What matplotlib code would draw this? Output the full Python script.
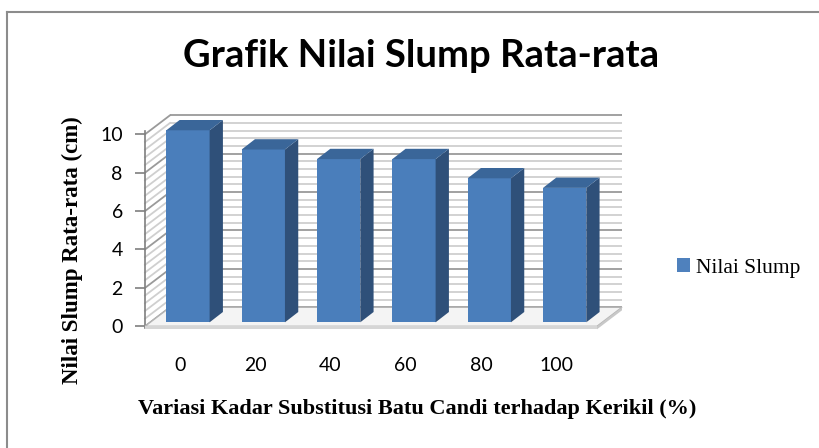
import matplotlib
matplotlib.use("Agg")
import matplotlib.pyplot as plt
from matplotlib.patches import Polygon, Patch
from matplotlib.lines import Line2D
import numpy as np

categories = ["0", "20", "40", "60", "80", "100"]
values = [10.0, 9.0, 8.5, 8.5, 7.5, 7.0]
yticks = [0, 2, 4, 6, 8, 10]
series_name = "Nilai Slump"
title = "Grafik Nilai Slump Rata-rata"
xlabel = "Variasi Kadar Substitusi Batu Candi terhadap Kerikil (%)"
ylabel = "Nilai Slump Rata-rata (cm)"

W, H = 819, 448
fig = plt.figure(figsize=(W / 100, H / 100), dpi=100)
fig.patch.set_facecolor("white")

# front plane of the plot in pixels
x_left, x_right = 145.0, 597.0
y0_px, y10_px = 326.3, 134.3
ax = fig.add_axes([x_left / W, 1 - y0_px / H, (x_right - x_left) / W, (y0_px - y10_px) / H])
n = len(categories)
ax.set_xlim(-0.5, n - 0.5)
ax.set_ylim(0, 10)
ax.set_facecolor("none")
for s in ["top", "right", "bottom"]:
    ax.spines[s].set_visible(False)

pxu_x = (x_right - x_left) / n
pxu_y = (y0_px - y10_px) / 10.0


def d(dxp, dyp):
    return dxp / pxu_x, -dyp / pxu_y


Dx, Dy = d(25, -19)          # full depth
bx, by = d(5.3, -4)          # bar front plane
ddx, ddy = d(13.3, -10.3)    # bar depth
bw = 43.3 / pxu_x

xl, xr = -0.5, n - 0.5

# back wall
ax.add_patch(Polygon([(xl + Dx, Dy), (xr + Dx, Dy), (xr + Dx, 10 + Dy), (xl + Dx, 10 + Dy)],
                     closed=True, fc="white", ec="none", zorder=1, clip_on=False))
# gridlines
for v in np.round(np.arange(0, 10.001, 0.4), 2):
    major = abs(v / 2 - round(v / 2)) < 1e-6
    col = "#9a9a9a" if major else "#cfcfcf"
    lw = 1.3
    ax.plot([xl + Dx, xr + Dx], [v + Dy, v + Dy], color=col, lw=lw, zorder=2, clip_on=False,
            solid_capstyle="butt")
    ax.plot([xl, xl + Dx], [v, v + Dy], color=col, lw=lw, zorder=2, clip_on=False)

# floor
ax.add_patch(Polygon([(xl, 0), (xr, 0), (xr + Dx, Dy), (xl + Dx, Dy)], closed=True,
                     fc="#f4f4f4", ec="#b5b5b5", lw=1.0, zorder=3, clip_on=False))
t = -3 / pxu_y
ax.add_patch(Polygon([(xl, 0), (xr, 0), (xr, t), (xl, t)], closed=True,
                     fc="#d6d6d6", ec="none", zorder=3, clip_on=False))
ax.add_patch(Polygon([(xr, 0), (xr + Dx, Dy), (xr + Dx, Dy + t), (xr, t)], closed=True,
                     fc="#c8c8c8", ec="none", zorder=3, clip_on=False))

# bars
front_c = "#4A7EBB"
side_c = "#2F5079"
top_c = "#3A6699"
xs = np.arange(n)
ax.bar(xs + bx, values, width=bw, bottom=by, color=front_c, zorder=5, clip_on=False)
for i, v in enumerate(values):
    x0 = i + bx - bw / 2
    x1 = i + bx + bw / 2
    ax.add_patch(Polygon([(x1, by), (x1 + ddx, by + ddy), (x1 + ddx, v + by + ddy), (x1, v + by)],
                         closed=True, fc=side_c, ec="none", zorder=5, clip_on=False))
    ax.add_patch(Polygon([(x0, v + by), (x1, v + by), (x1 + ddx, v + by + ddy), (x0 + ddx, v + by + ddy)],
                         closed=True, fc=top_c, ec="none", zorder=5, clip_on=False))

# axes styling
ax.spines["left"].set_color("#7f7f7f")
ax.spines["left"].set_linewidth(1.2)
ax.spines["left"].set_bounds(-0.1, 10.15)
ax.set_yticks(yticks)
ax.set_yticklabels([str(v) for v in yticks], fontfamily="Lato", fontsize=14, color="black")
ax.tick_params(axis="y", direction="out", length=7, width=1.2, color="#7f7f7f", pad=9)
ax.set_xticks(xs - 0.04)
ax.set_xticklabels(categories, fontfamily="Lato", fontsize=14)
ax.tick_params(axis="x", length=0, pad=22)

# texts
fig.text(421 / W, 1 - 56 / H, title, ha="center", va="center", fontfamily="Lato",
         fontweight="bold", fontsize=27.5)
fig.text(417 / W, 1 - 409 / H, xlabel, ha="center", va="center", fontfamily="Liberation Serif",
         fontweight="bold", fontsize=16)
fig.text(72 / W, 1 - 250 / H, ylabel, ha="center", va="center", rotation=90,
         fontfamily="Liberation Serif", fontweight="bold", fontsize=16.5)

# legend
fig.legend(handles=[Patch(fc="#4F81BD", ec="none", label=series_name)], loc="center left",
           bbox_to_anchor=(662 / W, 1 - 268 / H), frameon=False, handlelength=0.6,
           handleheight=0.6, handletextpad=0.3, borderaxespad=0.3,
           prop={"family": "Liberation Serif", "size": 15.5})

# chart border (top and left visible)
fig.add_artist(Line2D([7 / W, 1.0], [1 - 12 / H, 1 - 12 / H], color="#8c8c8c", lw=1.5))
fig.add_artist(Line2D([7 / W, 7 / W], [0.0, 1 - 12 / H], color="#8c8c8c", lw=1.5))

fig.savefig("out.png", dpi=100, facecolor="white")
